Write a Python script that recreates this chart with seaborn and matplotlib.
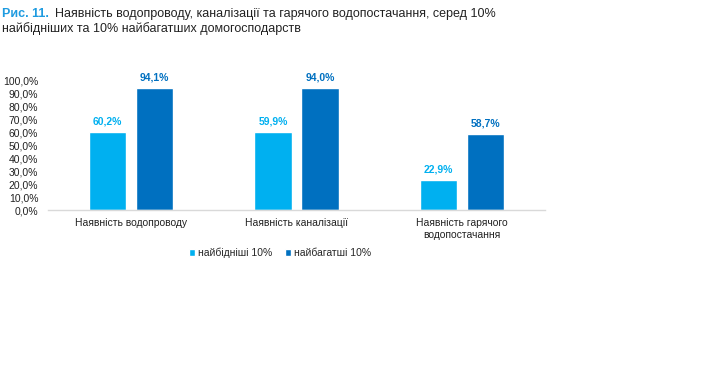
import numpy as np
import pandas as pd
import matplotlib
matplotlib.use("Agg")
import matplotlib.pyplot as plt
import seaborn as sns

# data
categories = ["Наявність водопроводу", "Наявність каналізації", "Наявність гарячого\nводопостачання"]
poorest = [60.2, 59.9, 22.9]
richest = [94.1, 94.0, 58.7]
series_names = ["найбідніші 10%", "найбагатші 10%"]
yticks = [0, 10, 20, 30, 40, 50, 60, 70, 80, 90, 100]

colors = ["#00B0F0", "#0070C0"]

df = pd.DataFrame({
    "category": categories * 2,
    "value": poorest + richest,
    "group": [series_names[0]] * 3 + [series_names[1]] * 3,
})

sns.set_theme(style="white")
plt.rcParams["font.family"] = ["Liberation Sans", "DejaVu Sans"]

fig = plt.figure(figsize=(7.2, 3.68), dpi=100)
ax = fig.add_axes([0.0667, 0.4293, 0.6903, 0.3533])

sns.barplot(data=df, x="category", y="value", hue="group", palette=colors,
            width=0.567, gap=0.21, ax=ax, saturation=1)

# value labels
for cont, col in zip(ax.containers, colors):
    labels = [f"{v:.1f}%".replace(".", ",") for v in cont.datavalues]
    ax.bar_label(cont, labels=labels, padding=4, color=col, fontsize=7.5, fontweight="bold")

ax.set_ylim(0, 100)
ax.set_yticks(yticks)
ax.set_yticklabels([f"{t:.1f}%".replace(".", ",") for t in yticks], fontsize=7.5, color="#222222")
ax.tick_params(axis="x", labelsize=7.5, colors="#222222", length=0, pad=6)
ax.tick_params(axis="y", length=0, pad=7)
ax.set_xlabel("")
ax.set_ylabel("")
for s in ["top", "right", "left"]:
    ax.spines[s].set_visible(False)
ax.spines["bottom"].set_color("#D9D9D9")
ax.spines["bottom"].set_linewidth(1)
ax.set_xlim(-0.5, 2.5)

handles, lbls = ax.get_legend_handles_labels()
ax.legend(handles, lbls, loc="upper center", bbox_to_anchor=(0.467, -0.22), ncol=2,
          frameon=False, fontsize=7.5, handlelength=0.6, handleheight=0.6,
          handletextpad=0.3, columnspacing=1.2)

# title
fig.text(0.003, 0.955, "Рис. 11.", color="#1E9BE0", fontsize=9, fontweight="bold")
fig.text(0.0764, 0.955, "Наявність водопроводу, каналізації та гарячого водопостачання, серед 10%",
         color="#222222", fontsize=9)
fig.text(0.003, 0.912, "найбідніших та 10% найбагатших домогосподарств", color="#222222", fontsize=9)

fig.savefig("out.png", dpi=100)
